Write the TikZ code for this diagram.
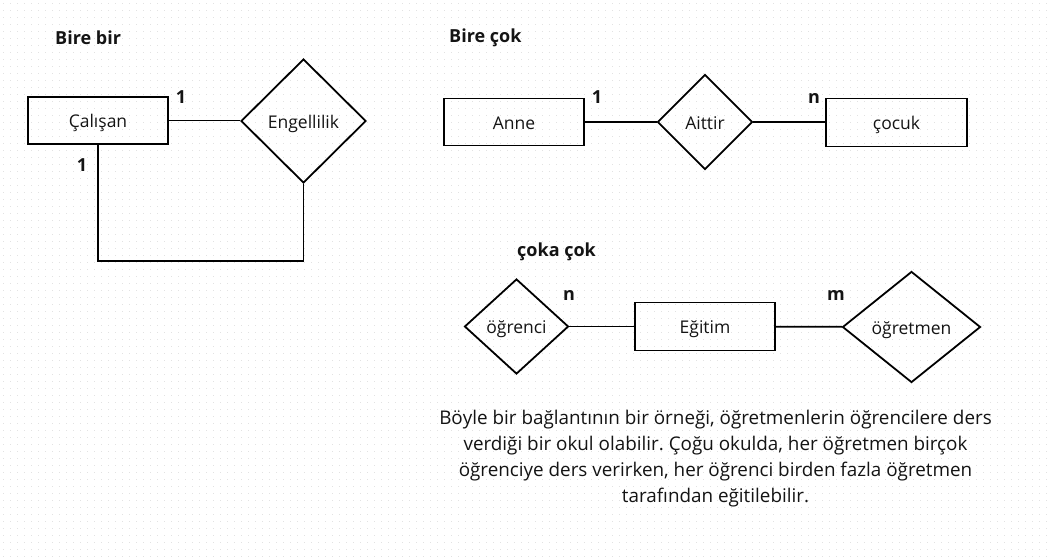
\documentclass[tikz,border=0pt]{standalone}
\usepackage{fontspec}
\setmainfont{Open Sans}
\usepackage{tikz}
\usetikzlibrary{shapes.geometric}
\usetikzlibrary{positioning}
\definecolor{gridDot}{RGB}{226,226,226}
\definecolor{inkBlack}{RGB}{20,20,20}
\tikzstyle{entity} = [draw=black,line width=1.8pt,rectangle,minimum width=140pt,minimum height=47pt,inner sep=0pt,text height=16pt,text depth=2pt,text=inkBlack,font=\fontsize{17.5}{20}\selectfont]
\tikzstyle{relation} = [draw=black,line width=1.8pt,diamond,inner sep=0pt,text height=16pt,text depth=2pt,text=inkBlack,font=\fontsize{17.5}{20}\selectfont]
\tikzstyle{card} = [font=\bfseries\fontsize{18}{20}\selectfont,inner sep=0pt,text=inkBlack]
\tikzstyle{heading} = [anchor=west,font=\bfseries\fontsize{18}{20}\selectfont,inner sep=0pt,text=inkBlack]
\tikzstyle{link} = [line width=1.8pt,draw=black]

\begin{document}
\begin{tikzpicture}[x=1pt,y=-1pt]

  \useasboundingbox (0,0) rectangle (1047,558);
  \fill[white] (0,0) rectangle (1047,558);
  % faint dot grid
  \foreach \y in {3,10,...,556}{
    \draw[gridDot,line width=1pt,dash pattern=on 1pt off 6pt] (3,\y) -- (1047,\y);
  }

  % Bire bir
  \node[heading] (t1) at (55,38) {Bire bir};
  \node[entity] (calisan) at (98,120.5) {Çalışan};
  \node[relation,minimum width=125pt,minimum height=124pt] (engel) at (303.5,121) {Engellilik};
  \coordinate (loop) at (200,261);
  \draw[link] (calisan.east) -- (calisan.east -| engel.west);
  \draw[link] (calisan.south) |- (loop) -| (engel.south);
  \node[card] (c1) at (181,97) {1};
  \node[card] (c2) at (82,165) {1};

  % Bire cok
  \node[heading] (t2) at (449,38) {Bire çok};
  \node[entity] (anne) at (514,122) {Anne};
  \node[relation,minimum width=95pt,minimum height=95pt] (aittir) at (705,122) {Aittir};
  \node[entity,minimum width=141pt,minimum height=48pt] (cocuk) at (896.5,122.5) {çocuk};
  \draw[link] (anne) -- (aittir);
  \draw[link] (aittir.east) -- (aittir.east -| cocuk.west);
  \node[card] (c3) at (597,97) {1};
  \node[card] (c4) at (814,98) {n};

  % coka cok
  \node[heading] (t3) at (517,252) {çoka çok};
  \node[relation,minimum width=104pt,minimum height=95pt] (ogrenci) at (516.5,326.5) {öğrenci};
  \node[entity,minimum height=48pt] (egitim) at (705,326.5) {Eğitim};
  \node[relation,minimum width=138pt,minimum height=111pt] (ogretmen) at (911.5,327) {öğretmen};
  \draw[link] (ogrenci) -- (egitim);
  \draw[link] (egitim) -- (ogretmen);
  \node[card] (c5) at (569,295) {n};
  \node[card] (c6) at (836,295) {m};

  \node[anchor=north,align=center,inner sep=0pt,text=inkBlack,font=\frenchspacing\fontsize{18.85}{26}\selectfont] (note) at (715.5,410)
    {Böyle bir bağlantının bir örneği, öğretmenlerin öğrencilere ders\\
     verdiği bir okul olabilir. Çoğu okulda, her öğretmen birçok\\
     öğrenciye ders verirken, her öğrenci birden fazla öğretmen\\
     tarafından eğitilebilir.};

\end{tikzpicture}
\end{document}
